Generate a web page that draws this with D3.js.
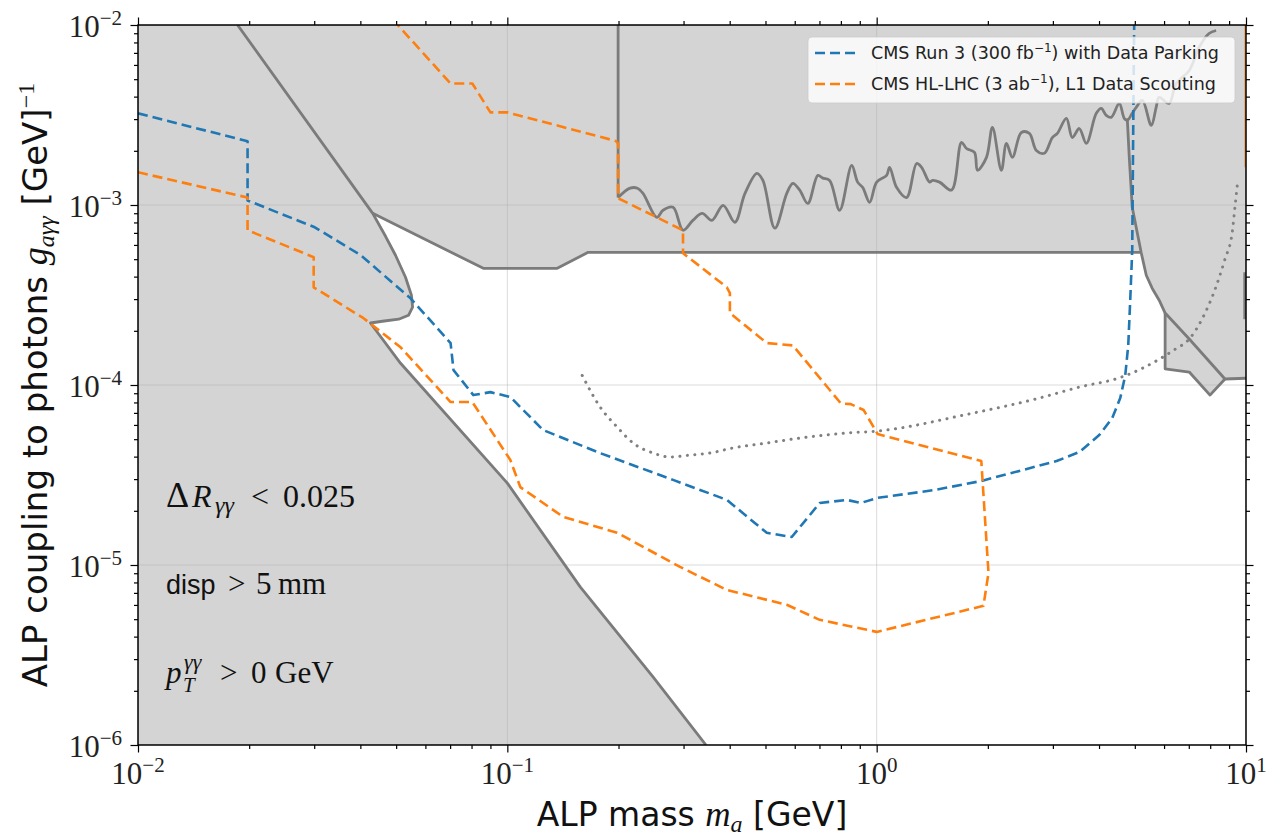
<!DOCTYPE html>
<html>
<head>
<meta charset="utf-8">
<script src="https://cdn.jsdelivr.net/npm/d3@7/dist/d3.min.js"></script>
<style>
  body { margin: 0; background: #fff; }
</style>
</head>
<body>
<div id="chart"></div>
<script>
// ---- data: [ALP mass (GeV), coupling g_agg (1/GeV)] ----

// CMS Run 3 (300 fb-1) with Data Parking
const run3Parking = [
  [0.0100, 3.23e-3], [0.0198, 2.26e-3], [0.0198, 1.06e-3], [0.0301, 7.52e-4],
  [0.0401, 5.26e-4], [0.0547, 3.03e-4], [0.0702, 1.71e-4], [0.0715, 1.21e-4],
  [0.0809, 8.79e-5], [0.0900, 9.13e-5], [0.1019, 8.57e-5], [0.125, 5.62e-5],
  [0.178, 4.19e-5], [0.281, 2.97e-5], [0.393, 2.30e-5], [0.504, 1.51e-5],
  [0.589, 1.43e-5], [0.701, 2.21e-5], [0.830, 2.30e-5], [0.905, 2.21e-5],
  [1.006, 2.36e-5], [1.435, 2.61e-5], [1.92, 2.93e-5], [3.07, 3.78e-5],
  [3.537, 4.24e-5], [4.006, 5.27e-5], [4.343, 6.55e-5], [4.566, 8.46e-5],
  [4.710, 1.13e-4], [4.799, 1.66e-4], [4.859, 2.96e-4], [4.92, 5.61e-4],
  [4.95, 2.60e-3], [4.98, 1.0e-2]
];

// CMS HL-LHC (3 ab-1), L1 Data Scouting
const hllhcScouting = [
  [0.0100, 1.52e-3], [0.0198, 1.10e-3], [0.0198, 7.24e-4], [0.0299, 5.13e-4],
  [0.0299, 3.49e-4], [0.0408, 2.35e-4], [0.0514, 1.62e-4], [0.0702, 8.04e-5],
  [0.0804, 8.04e-5], [0.1019, 3.83e-5], [0.1084, 2.71e-5], [0.1417, 1.85e-5],
  [0.1983, 1.51e-5], [0.2935, 9.76e-6], [0.393, 7.27e-6], [0.571, 6.01e-6],
  [0.701, 4.96e-6], [1.0, 4.25e-6], [1.946, 5.93e-6], [2.008, 9.04e-6],
  [1.92, 3.78e-5], [1.006, 5.34e-5], [0.922, 7.26e-5], [0.851, 7.83e-5],
  [0.80, 7.90e-5], [0.593, 1.66e-4], [0.504, 1.71e-4], [0.4005, 2.51e-4],
  [0.4005, 3.24e-4], [0.393, 3.49e-4], [0.299, 5.40e-4], [0.299, 7.24e-4],
  [0.1995, 1.09e-3], [0.1995, 2.20e-3], [0.1965, 2.27e-3], [0.100, 3.27e-3],
  [0.090, 3.27e-3], [0.0804, 4.73e-3], [0.0702, 4.73e-3], [0.0505, 1.0e-2]
];

// existing limits (outlines of the excluded grey area)
const beamDump = [
  [0.0186, 1.0e-2], [0.0432, 8.99e-4], [0.0468, 6.70e-4], [0.0498, 5.26e-4],
  [0.0530, 3.97e-4], [0.0550, 3.15e-4], [0.0554, 2.71e-4], [0.0540, 2.44e-4],
  [0.0508, 2.32e-4], [0.0459, 2.26e-4], [0.0426, 2.21e-4], [0.0514, 1.32e-4],
  [0.100, 2.85e-5], [0.1575, 7.56e-6], [0.248, 2.39e-6], [0.345, 1.0e-6]
];
const colliderTop = [
  [0.0432, 8.99e-4], [0.0861, 4.45e-4], [0.1365, 4.45e-4], [0.1655, 5.46e-4], [5.20, 5.46e-4]
];
const rightLimit = [
  [4.77, 3.03e-3], [4.83, 1.84e-3], [4.92, 9.71e-4], [5.08, 6.97e-4], [5.20, 5.46e-4],
  [5.37, 4.07e-4], [5.57, 3.45e-4], [5.82, 2.96e-4], [6.04, 2.51e-4], [7.02, 1.80e-4],
  [8.77, 1.08e-4], [10.0, 1.09e-4]
];
const stepLimit = [
  [6.04, 2.51e-4], [6.04, 1.23e-4], [7.02, 1.18e-4], [7.99, 8.79e-5], [8.77, 1.08e-4]
];
const edgeLimit = [[9.92, 4.23e-4], [9.92, 2.32e-4]];
const edgeOrange = [[9.95, 1.0e-2], [9.95, 1.62e-3]];

// wiggly resonance-search limit (first point: vertical edge at 0.2 GeV)
const resonanceLimit = [
  [0.1995, 1.0e-2], [0.1995, 1.10e-3], [0.215, 1.24e-3], [0.225, 1.24e-3], [0.233, 1.16e-3],
  [0.254, 8.54e-4], [0.264, 9.35e-4], [0.281, 9.71e-4], [0.299, 7.24e-4], [0.318, 8.22e-4],
  [0.337, 8.99e-4], [0.358, 8.22e-4], [0.384, 9.96e-4], [0.413, 8.02e-4], [0.440, 1.16e-3],
  [0.474, 1.50e-3], [0.492, 1.37e-3], [0.530, 7.43e-4], [0.571, 1.16e-3], [0.593, 1.32e-3],
  [0.619, 1.21e-3], [0.651, 1.02e-3], [0.693, 1.46e-3], [0.715, 1.41e-3], [0.746, 1.37e-3],
  [0.794, 9.35e-4], [0.856, 1.66e-3], [0.888, 1.34e-3], [0.917, 1.25e-3], [0.957, 1.035e-3],
  [1.0, 1.34e-3], [1.064, 1.46e-3], [1.084, 1.62e-3], [1.133, 1.25e-3], [1.205, 1.10e-3],
  [1.283, 1.70e-3], [1.323, 1.62e-3], [1.391, 1.34e-3], [1.417, 1.37e-3], [1.480, 1.34e-3],
  [1.595, 1.21e-3], [1.697, 2.23e-3], [1.751, 2.06e-3], [1.840, 1.96e-3], [1.875, 1.56e-3],
  [1.983, 1.84e-3], [2.058, 2.70e-3], [2.176, 1.56e-3], [2.246, 2.20e-3], [2.331, 1.84e-3],
  [2.465, 2.53e-3], [2.591, 2.50e-3], [2.706, 2.01e-3], [2.845, 1.94e-3], [2.990, 2.37e-3],
  [3.085, 2.50e-3], [3.263, 3.03e-3], [3.387, 2.37e-3], [3.537, 2.66e-3], [3.695, 2.20e-3],
  [3.932, 3.23e-3], [4.056, 3.44e-3], [4.184, 3.15e-3], [4.316, 3.07e-3], [4.538, 3.67e-3],
  [4.681, 3.03e-3], [4.77, 2.95e-3], [4.92, 3.23e-3], [5.04, 3.48e-3], [5.24, 3.81e-3],
  [5.54, 2.77e-3], [5.71, 3.48e-3], [5.82, 3.96e-3], [6.19, 3.67e-3], [6.47, 4.73e-3],
  [7.02, 5.59e-3], [7.46, 7.50e-3], [7.94, 8.97e-3], [8.30, 9.32e-3]
];

// dotted projection
const dottedProjection = [
  [0.1595, 1.13e-4], [0.1784, 7.54e-5], [0.1983, 5.84e-5], [0.219, 4.76e-5],
  [0.248, 4.19e-5], [0.2757, 3.98e-5], [0.3123, 4.08e-5], [0.3537, 4.19e-5],
  [0.408, 4.47e-5], [0.504, 4.76e-5], [0.619, 5.07e-5], [0.830, 5.41e-5],
  [1.006, 5.55e-5], [1.774, 6.90e-5], [2.689, 8.35e-5], [3.537, 9.73e-5],
  [4.623, 1.11e-4], [5.82, 1.39e-4], [6.43, 1.58e-4], [7.02, 1.80e-4],
  [7.60, 2.32e-4], [8.25, 3.41e-4], [8.77, 5.00e-4], [9.17, 6.97e-4],
  [9.34, 9.83e-4], [9.51, 1.39e-3]
];

// axis ticks
const massTicks = [0.01, 0.1, 1, 10];
const massTickExp = ["−2", "−1", "0", "1"];
const couplingTicks = [1e-6, 1e-5, 1e-4, 1e-3, 1e-2];
const couplingTickExp = ["−6", "−5", "−4", "−3", "−2"];

const legendLabels = [
  { color: "#1f77b4", text: ["CMS Run 3 (300 fb", "−1", ") with Data Parking"] },
  { color: "#ff7f0e", text: ["CMS HL-LHC (3 ab", "−1", "), L1 Data Scouting"] }
];

// ---- drawing ----
const W = 1266, H = 837;
const margin = { top: 25, right: 20, bottom: 92, left: 138 };
const x = d3.scaleLog().domain([1e-2, 10]).range([margin.left, W - margin.right]);
const y = d3.scaleLog().domain([1e-6, 1e-2]).range([H - margin.bottom, margin.top]);

const SERIF = "'Liberation Serif', 'DejaVu Serif', serif";
const SANS = "'DejaVu Sans', 'Liberation Sans', sans-serif";
const GREY_FILL = "#d4d4d4";
const GREY_LINE = "#7b7b7b";

const svg = d3.select("#chart").append("svg")
  .attr("width", W).attr("height", H)
  .style("background", "#fff");

svg.append("defs").append("clipPath").attr("id", "plotClip")
  .append("rect")
  .attr("x", x(1e-2)).attr("y", y(1e-2))
  .attr("width", x(10) - x(1e-2)).attr("height", y(1e-6) - y(1e-2));

const plot = svg.append("g").attr("clip-path", "url(#plotClip)");
const line = d3.line().x(d => x(d[0])).y(d => y(d[1]));
const smooth = d3.line().curve(d3.curveCatmullRom.alpha(0.5)).x(d => x(d[0])).y(d => y(d[1]));

// everything is excluded, except the open window
plot.append("rect")
  .attr("x", x(1e-2)).attr("y", y(1e-2))
  .attr("width", x(10) - x(1e-2)).attr("height", y(1e-6) - y(1e-2))
  .attr("fill", GREY_FILL);

const openRegion = colliderTop.concat(
  rightLimit.slice(5, 9),
  stepLimit.slice(1),
  rightLimit.slice(-1),
  [[10, 1e-6]],
  beamDump.slice(1).reverse()
);
plot.append("path").datum(openRegion)
  .attr("d", line(openRegion) + "Z")
  .attr("fill", "#fff");

// grid
plot.append("g").selectAll("line").data(massTicks).join("line")
  .attr("x1", d => x(d)).attr("x2", d => x(d))
  .attr("y1", y(1e-2)).attr("y2", y(1e-6))
  .attr("stroke", "#b0b0b0").attr("stroke-opacity", 0.45).attr("stroke-width", 1);
plot.append("g").selectAll("line").data(couplingTicks).join("line")
  .attr("x1", x(1e-2)).attr("x2", x(10))
  .attr("y1", d => y(d)).attr("y2", d => y(d))
  .attr("stroke", "#b0b0b0").attr("stroke-opacity", 0.45).attr("stroke-width", 1);

// limit outlines
[beamDump, colliderTop, rightLimit, stepLimit, edgeLimit, resonanceLimit.slice(0, 2)].forEach(function (pts) {
  plot.append("path").datum(pts)
    .attr("d", line)
    .attr("fill", "none")
    .attr("stroke", GREY_LINE)
    .attr("stroke-width", 2.8)
    .attr("stroke-linejoin", "round");
});
plot.append("path").datum(resonanceLimit.slice(1))
  .attr("d", smooth)
  .attr("fill", "none")
  .attr("stroke", GREY_LINE)
  .attr("stroke-width", 2.8)
  .attr("stroke-linejoin", "round");
plot.append("path").datum(edgeOrange)
  .attr("d", line).attr("fill", "none")
  .attr("stroke", "#ff7f0e").attr("stroke-opacity", 0.6).attr("stroke-width", 2);

// dotted projection
plot.append("path").datum(dottedProjection)
  .attr("d", d3.line().curve(d3.curveMonotoneX).x(d => x(d[0])).y(d => y(d[1])))
  .attr("fill", "none")
  .attr("stroke", "#808080")
  .attr("stroke-width", 3)
  .attr("stroke-linecap", "round")
  .attr("stroke-dasharray", "0.1 7.4");

// projections
plot.append("path").datum(run3Parking)
  .attr("d", line).attr("fill", "none")
  .attr("stroke", "#1f77b4").attr("stroke-width", 2.6)
  .attr("stroke-dasharray", "10 5").attr("stroke-linejoin", "round");
plot.append("path").datum(hllhcScouting)
  .attr("d", line).attr("fill", "none")
  .attr("stroke", "#ff7f0e").attr("stroke-width", 2.6)
  .attr("stroke-dasharray", "10 5").attr("stroke-linejoin", "round");

// axes: minor and major ticks on all four sides
const minorX = x.ticks().filter(v => !massTicks.some(m => Math.abs(m - v) / m < 1e-6));
const minorY = y.ticks().filter(v => !couplingTicks.some(m => Math.abs(m - v) / m < 1e-6));

function axisPair(gen, scale, major, minor, tr) {
  const g = svg.append("g").attr("transform", tr);
  g.append("g").call(gen(scale).tickValues(minor).tickSize(4).tickFormat(""));
  g.append("g").call(gen(scale).tickValues(major).tickSize(7.5).tickFormat(""));
  g.selectAll(".domain").remove();
  g.selectAll("line").attr("stroke", "#000").attr("stroke-width", 1.2);
  return g;
}
axisPair(d3.axisBottom, x, massTicks, minorX, `translate(0,${y(1e-6)})`);
axisPair(d3.axisTop, x, massTicks, minorX, `translate(0,${y(1e-2)})`);
axisPair(d3.axisLeft, y, couplingTicks, minorY, `translate(${x(1e-2)},0)`);
axisPair(d3.axisRight, y, couplingTicks, minorY, `translate(${x(10)},0)`);

// frame
svg.append("rect")
  .attr("x", x(1e-2)).attr("y", y(1e-2))
  .attr("width", x(10) - x(1e-2)).attr("height", y(1e-6) - y(1e-2))
  .attr("fill", "none").attr("stroke", "#000").attr("stroke-width", 1.5);

// tick labels 10^n
massTicks.forEach(function (v, i) {
  const t = svg.append("text")
    .attr("x", x(v)).attr("y", y(1e-6) + 39)
    .attr("text-anchor", "middle")
    .attr("font-family", SERIF).attr("font-size", 31).attr("fill", "#222");
  t.append("tspan").text("10");
  t.append("tspan").attr("dy", -12).attr("font-size", 21).text(massTickExp[i]);
});
couplingTicks.forEach(function (v, i) {
  const t = svg.append("text")
    .attr("x", 122).attr("y", y(v) + 12)
    .attr("text-anchor", "end")
    .attr("font-family", SERIF).attr("font-size", 31).attr("fill", "#222");
  t.append("tspan").text("10");
  t.append("tspan").attr("dy", -12).attr("font-size", 21).text(couplingTickExp[i]);
});

// axis titles
const xt = svg.append("text")
  .attr("x", (x(1e-2) + x(10)) / 2).attr("y", 826)
  .attr("text-anchor", "middle").attr("font-size", 33).attr("fill", "#111");
xt.append("tspan").attr("font-family", SANS).text("ALP mass ");
xt.append("tspan").attr("font-family", SERIF).attr("font-style", "italic").attr("font-size", 35).text("m");
xt.append("tspan").attr("font-family", SERIF).attr("font-style", "italic").attr("font-size", 24).attr("dy", 6).text("a");
xt.append("tspan").attr("font-family", SANS).attr("dy", -6).text(" [GeV]");

const yt = svg.append("text")
  .attr("transform", `translate(47,${(y(1e-2) + y(1e-6)) / 2}) rotate(-90)`)
  .attr("text-anchor", "middle").attr("font-size", 34).attr("fill", "#111");
yt.append("tspan").attr("font-family", SANS).text("ALP coupling to photons ");
yt.append("tspan").attr("font-family", SERIF).attr("font-style", "italic").attr("font-size", 36).text("g");
yt.append("tspan").attr("font-family", SERIF).attr("font-style", "italic").attr("font-size", 24).attr("dy", 7).text("aγγ");
yt.append("tspan").attr("font-family", SANS).attr("dy", -7).text(" [GeV]");
yt.append("tspan").attr("font-family", SERIF).attr("font-size", 24).attr("dy", -13).text("−1");

// cut annotations
const a1 = svg.append("text").attr("x", 166).attr("y", 507)
  .attr("font-family", SERIF).attr("font-size", 32).attr("fill", "#111");
a1.append("tspan").attr("font-size", 36).text("Δ");
a1.append("tspan").attr("x", 192).attr("font-style", "italic").text("R");
a1.append("tspan").attr("x", 215).attr("font-style", "italic").attr("font-size", 24).attr("dy", 6).text("γγ");
a1.append("tspan").attr("x", 251).attr("dy", -6).text("<");
a1.append("tspan").attr("x", 283).text("0.025");

const a2 = svg.append("text").attr("x", 166).attr("y", 594)
  .attr("font-family", SERIF).attr("font-size", 31).attr("fill", "#111");
a2.append("tspan").attr("font-family", "'Liberation Sans', sans-serif").attr("font-size", 27).text("disp");
a2.append("tspan").attr("x", 228).text(">");
a2.append("tspan").attr("x", 256).text("5");
a2.append("tspan").attr("x", 278).text("mm");

const a3 = svg.append("text").attr("x", 166).attr("y", 683)
  .attr("font-family", SERIF).attr("font-size", 31).attr("fill", "#111");
a3.append("tspan").attr("font-style", "italic").text("p");
a3.append("tspan").attr("x", 184).attr("dy", -14).attr("font-style", "italic").attr("font-size", 22).text("γγ");
a3.append("tspan").attr("x", 183).attr("dy", 23).attr("font-style", "italic").attr("font-size", 21).text("T");
a3.append("tspan").attr("x", 220).attr("dy", -9).text(">");
a3.append("tspan").attr("x", 251).text("0");
a3.append("tspan").attr("x", 275).text("GeV");

// legend
const lg = svg.append("g");
lg.append("rect")
  .attr("x", 808).attr("y", 37).attr("width", 427).attr("height", 66).attr("rx", 4)
  .attr("fill", "#fff").attr("fill-opacity", 0.8)
  .attr("stroke", "#cccccc").attr("stroke-opacity", 0.8);
legendLabels.forEach(function (d, i) {
  const cy = 53 + i * 31;
  lg.append("line")
    .attr("x1", 815).attr("x2", 856).attr("y1", cy).attr("y2", cy)
    .attr("stroke", d.color).attr("stroke-width", 2.6).attr("stroke-dasharray", "10 5");
  const t = lg.append("text").attr("x", 871).attr("y", cy + 6)
    .attr("font-family", SANS).attr("font-size", 17.5).attr("fill", "#222");
  t.append("tspan").text(d.text[0]);
  t.append("tspan").attr("font-size", 12).attr("dy", -7).text(d.text[1]);
  t.append("tspan").attr("dy", 7).text(d.text[2]);
});
</script>
</body>
</html>
